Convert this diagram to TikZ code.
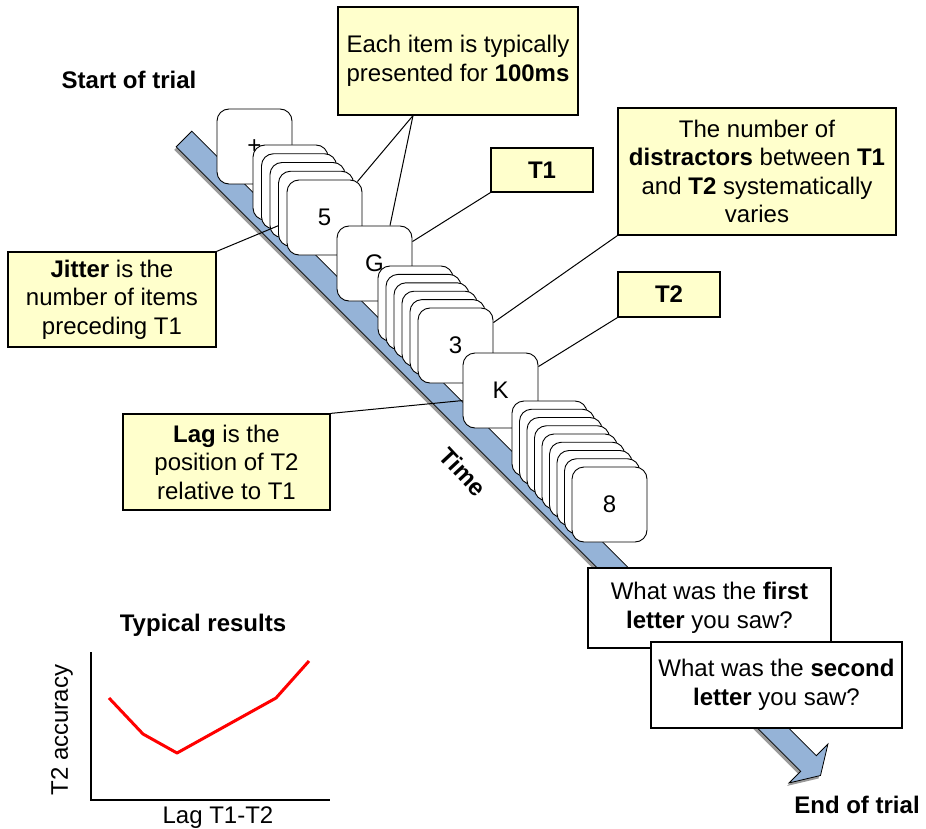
\documentclass[tikz,border=0pt]{standalone}
\usepackage{fontspec}
\setmainfont{Liberation Sans}
\usetikzlibrary{calc}
\definecolor{notey}{HTML}{FFFFCC}
\definecolor{bandblue}{HTML}{95B3D7}
\begin{document}
\begin{tikzpicture}[x=1pt,y=-1pt,
 card/.style={draw=black, line width=0.9pt, fill=white, rounded corners=12pt, minimum width=75pt, minimum height=75pt, inner sep=0pt, font=\fontsize{24}{28.5}\selectfont},
 note/.style={draw=black, line width=1.2pt, fill=notey, align=center, inner sep=0pt, font=\fontsize{24}{28.5}\selectfont},
 qbox/.style={note, fill=white},
 conn/.style={draw=black, line width=1pt},
 lbl/.style={font=\fontsize{24}{28.5}\selectfont\bfseries, inner sep=0pt},
 plain/.style={font=\fontsize{24}{28.5}\selectfont, inner sep=0pt}
]
\useasboundingbox (0,0) rectangle (926,829);

% time band with shadow
\fill[black!40, shift={(-2,3)}] (191.8,131.2) -- (816.3,755.7) -- (827.9,744.1) -- (820.5,775.5) -- (789.1,782.9) -- (800.7,771.3) -- (176.2,146.8) -- cycle;
\draw[fill=bandblue, line width=0.8pt, line join=miter] (191.8,131.2) -- (816.3,755.7) -- (827.9,744.1) -- (820.5,775.5) -- (789.1,782.9) -- (800.7,771.3) -- (176.2,146.8) -- cycle;

% labels
\node[lbl] (start) at (129,80) {Start of trial};
\node[lbl] (end) at (857,805) {End of trial};
\node[lbl, rotate=-47] (time) at (463,472) {Time};

% cards
\node[card] (plus) at (254.5,146.5) {+};
\foreach \i in {0,...,3} { \node[card] (sa\i) at ({290.5+8.5*\i},{182.5+8.75*\i}) {}; }
\node[card] (five) at (324.5,217.5) {5};
\node[card] (g) at (374.5,263.5) {G};
\foreach \i in {0,...,4} { \node[card] (sb\i) at ({415.5+8*\i},{303.5+8.4*\i}) {}; }
\node[card] (three) at (455.5,345.5) {3};
\node[card] (k) at (500.5,390.5) {K};
\foreach \i in {0,...,7} { \node[card] (sc\i) at ({549.5+7.5*\i},{438.5+8.25*\i}) {}; }
\node[card] (eight) at (609.5,504.5) {8};

% notes
\node[note, minimum width=240pt, minimum height=108pt] (each) at (458,61) {Each item is typically\\presented for {\bfseries 100ms}};
\node[note, minimum width=102pt, minimum height=44pt] (t1) at (542,170) {\bfseries T1};
\node[note, minimum width=278pt, minimum height=127pt] (distr) at (757,171.5) {The number of\\{\bfseries distractors} between {\bfseries T1}\\and {\bfseries T2} systematically\\varies};
\node[note, minimum width=102pt, minimum height=45pt] (t2) at (669,294.5) {\bfseries T2};
\node[note, minimum width=208pt, minimum height=95pt] (jitter) at (112,299.5) {{\bfseries Jitter} is the\\number of items\\preceding T1};
\node[note, minimum width=207pt, minimum height=96pt] (lag) at (226.5,462) {{\bfseries Lag} is the\\position of T2\\relative to T1};
\node[qbox, minimum width=243pt, minimum height=80pt] (q1) at (709.5,608) {What was the {\bfseries first}\\{\bfseries letter} you saw?};
\node[qbox, minimum width=251pt, minimum height=86pt] (q2) at (776.5,685) {What was the {\bfseries second}\\{\bfseries letter} you saw?};

% connectors
\draw[conn] ($(each.south)+(-45,0)$) -- ($(five.north east)+(-5,2)$);
\draw[conn] ($(each.south)+(-45,0)$) -- ($(g.north)+(15.5,0)$);
\draw[conn] (t1.south west) -- ($(g.north east)+(0,16)$);
\draw[conn] (distr.south west) -- ($(three.north east)+(0,15)$);
\draw[conn] (t2.south west) -- ($(k.north east)+(0,14)$);
\draw[conn] (jitter.north east) -- ($(sa3.north west)+(0,55)$);
\draw[conn] (lag.north east) -- ($(k.north west)+(0,48)$);

% chart
\node[lbl] (typ) at (203,625) {Typical results};
\draw[line width=2pt] (91,652) -- (91,800) -- (330,800);
\draw[red, line width=3pt, line join=round] (109,698) -- (143,734) -- (177,753) -- (276,698) -- (309,661);
\node[plain, rotate=90] (yl) at (62,730) {T2 accuracy};
\node[plain] (xl) at (218,818) {Lag T1-T2};
\end{tikzpicture}
\end{document}
